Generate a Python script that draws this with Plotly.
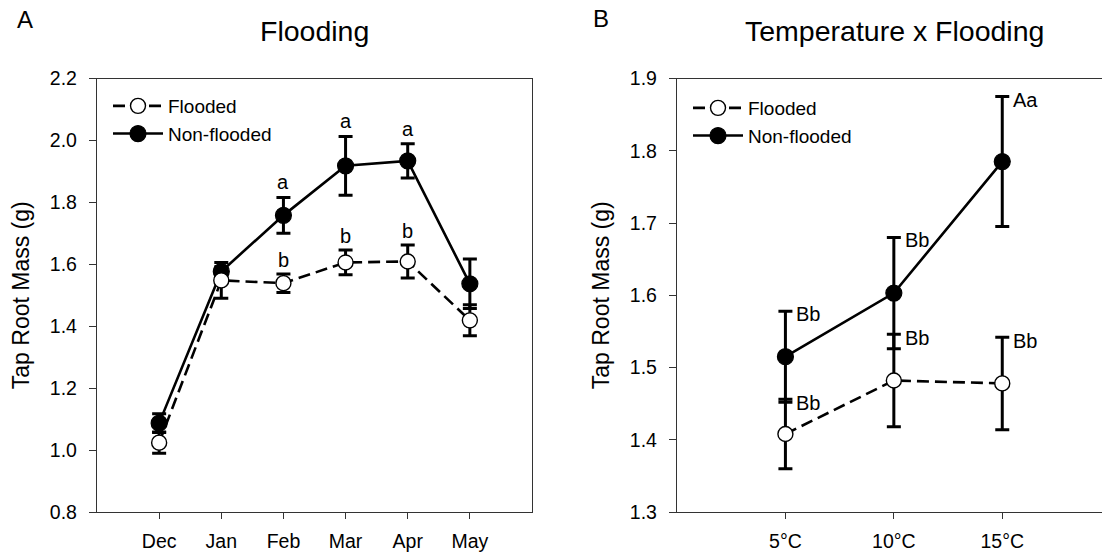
import plotly.graph_objects as go

# ---------------- data ----------------
months = ["Dec", "Jan", "Feb", "Mar", "Apr", "May"]
flooded_a = [1.024, 1.548, 1.539, 1.606, 1.609, 1.419]
flooded_a_err = [0.034, 0.058, 0.030, 0.040, 0.053, 0.050]
nonflooded_a = [1.087, 1.577, 1.758, 1.918, 1.934, 1.537]
nonflooded_a_err = [0.030, 0.015, 0.058, 0.095, 0.055, 0.080]
letters_a_non = ["", "", "a", "a", "a", ""]
letters_a_fl = ["", "", "b", "b", "b", ""]

temps = ["5°C", "10°C", "15°C"]
flooded_b = [1.408, 1.482, 1.478]
flooded_b_err = [0.048, 0.064, 0.064]
nonflooded_b = [1.515, 1.603, 1.785]
nonflooded_b_err = [0.063, 0.077, 0.090]
letters_b_non = ["Bb", "Bb", "Aa"]
letters_b_fl = ["Bb", "Bb", "Bb"]

FONT = "Arial, Liberation Sans, Helvetica, sans-serif"
W, H = 1102, 554

fig = go.Figure()


def add_pair(xcats, fl, fl_err, nf, nf_err, xa, ya, legend):
    # Non-flooded first so the open circles sit on top
    fig.add_trace(go.Scatter(
        x=xcats, y=nf, name="Non-flooded", mode="lines+markers",
        xaxis=xa, yaxis=ya, legend=legend, legendrank=2,
        line=dict(color="black", width=2.6),
        marker=dict(symbol="circle", size=16, color="black",
                    line=dict(color="black", width=1.2)),
        error_y=dict(type="data", array=nf_err, visible=True,
                     color="black", thickness=3, width=7),
    ))
    fig.add_trace(go.Scatter(
        x=xcats, y=fl, name="Flooded", mode="lines+markers",
        xaxis=xa, yaxis=ya, legend=legend, legendrank=1,
        line=dict(color="black", width=2.6, dash="12px,6px"),
        marker=dict(symbol="circle", size=15, color="white",
                    line=dict(color="black", width=1.4)),
        error_y=dict(type="data", array=fl_err, visible=True,
                     color="black", thickness=3, width=7),
    ))


add_pair(months, flooded_a, flooded_a_err, nonflooded_a, nonflooded_a_err,
         "x", "y", "legend")
add_pair(temps, flooded_b, flooded_b_err, nonflooded_b, nonflooded_b_err,
         "x2", "y2", "legend2")

LET = dict(size=20, family=FONT, color="black")

# ---------------- letters ----------------
ann = []
for m, v, e, t in zip(months, nonflooded_a, nonflooded_a_err, letters_a_non):
    if t:
        ann.append(dict(x=m, y=v + e, xref="x", yref="y", text=t,
                        showarrow=False, yanchor="bottom", yshift=2, font=LET))
for m, v, e, t in zip(months, flooded_a, flooded_a_err, letters_a_fl):
    if t:
        ann.append(dict(x=m, y=v + e, xref="x", yref="y", text=t,
                        showarrow=False, yanchor="bottom", yshift=1, font=LET))
for c, v, e, t in zip(temps, nonflooded_b, nonflooded_b_err, letters_b_non):
    ann.append(dict(x=c, y=v + e, xref="x2", yref="y2", text=t,
                    showarrow=False, xanchor="left", yanchor="middle",
                    xshift=9, yshift=-3, font=LET))
for c, v, e, t in zip(temps, flooded_b, flooded_b_err, letters_b_fl):
    ann.append(dict(x=c, y=v + e, xref="x2", yref="y2", text=t,
                    showarrow=False, xanchor="left", yanchor="middle",
                    xshift=9, yshift=-4, font=LET))

# ---------------- titles / panel letters ----------------
x1d = [97 / W, 532 / W]
x2d = [677 / W, 1.0]
yd = [42 / H, 475.5 / H]

ann += [
    dict(x=(97 + 532) / 2 / W, y=1 - 31 / H, xref="paper", yref="paper",
         text="Flooding", showarrow=False, xanchor="center", yanchor="middle",
         font=dict(size=28.5, family=FONT, color="black")),
    dict(x=(677 + 1111) / 2 / W, y=1 - 31 / H, xref="paper", yref="paper",
         text="Temperature x Flooding", showarrow=False, xanchor="center",
         yanchor="middle", font=dict(size=28.5, family=FONT, color="black")),
    dict(x=25 / W, y=1 - 20 / H, xref="paper", yref="paper", text="A",
         showarrow=False, xanchor="center", yanchor="middle",
         font=dict(size=24, family=FONT, color="black")),
    dict(x=601 / W, y=1 - 18 / H, xref="paper", yref="paper", text="B",
         showarrow=False, xanchor="center", yanchor="middle",
         font=dict(size=24, family=FONT, color="black")),
]

axis_common = dict(
    showgrid=False, zeroline=False, showline=True, linecolor="#333333",
    linewidth=1.3, ticks="outside", tickcolor="#333333", tickwidth=1.3,
    tickfont=dict(size=19.5, family=FONT, color="black"), automargin=False,
)
ytitle_font = dict(size=23, family=FONT, color="black")

fig.update_layout(
    width=W, height=H,
    margin=dict(l=0, r=0, t=0, b=0),
    paper_bgcolor="white", plot_bgcolor="white",
    font=dict(family=FONT, color="black"),
    annotations=ann,
    xaxis=dict(axis_common, domain=x1d, anchor="y", type="category",
               range=[-1, 6], ticklen=6, mirror=True, ticklabelstandoff=5),
    yaxis=dict(axis_common, domain=yd, anchor="x", range=[0.8, 2.2],
               dtick=0.2, tick0=0.8, tickformat=".1f", ticklen=7, mirror=True,
               ticklabelstandoff=8,
               title=dict(text="Tap Root Mass (g)", standoff=13,
                          font=ytitle_font)),
    xaxis2=dict(axis_common, domain=x2d, anchor="y2", type="category",
                range=[-1, 2.92], ticklen=6, mirror=True, ticklabelstandoff=5),
    yaxis2=dict(axis_common, domain=yd, anchor="x2", range=[1.3, 1.9],
                dtick=0.1, tick0=1.3, tickformat=".1f", ticklen=7,
                ticklabelstandoff=8,
                title=dict(text="Tap Root Mass (g)", standoff=13,
                           font=ytitle_font)),
    legend=dict(x=108 / W, y=1 - 87 / H, xanchor="left", yanchor="top",
                bgcolor="rgba(0,0,0,0)", itemwidth=50,
                font=dict(size=19, family=FONT, color="black"),
                traceorder="normal"),
    legend2=dict(x=688 / W, y=1 - 89 / H, xanchor="left", yanchor="top",
                 bgcolor="rgba(0,0,0,0)", itemwidth=50,
                 font=dict(size=19, family=FONT, color="black"),
                 traceorder="normal"),
)

fig.write_html("out.html")
